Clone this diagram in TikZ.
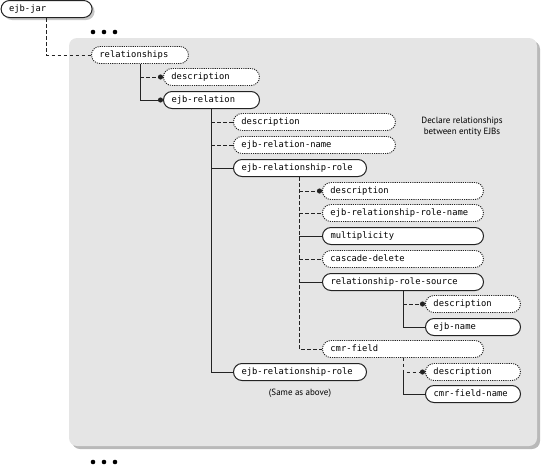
\documentclass[tikz,border=0pt]{standalone}
\usepackage{fontspec}
\newfontfamily\boxfont{DejaVu Sans Mono}
\newfontfamily\notefont{PT Sans}
\usetikzlibrary{positioning,arrows.meta,shadows}
\definecolor{PanelGray}{RGB}{229,229,229}
\definecolor{ShadeGray}{RGB}{115,115,115}
\definecolor{InkGray}{RGB}{35,35,35}
\tikzset{
  elem/.style={draw=InkGray,fill=white,rounded corners=8.5pt,minimum height=17pt,
    inner xsep=8pt,inner ysep=0pt,anchor=west,align=left,text width=#1,
    text height=6.5pt,text depth=2pt,font=\boxfont\fontsize{8.8}{10}\selectfont,line width=1pt},
  opt/.style={elem=#1,dash pattern=on 1.1pt off 1.1pt,line width=0.9pt},
  must/.style={draw=InkGray,line width=1pt},
  may/.style={draw=InkGray,line width=0.8pt,dash pattern=on 3.5pt off 2.5pt},
  dot/.style={-{Circle[length=5pt]}},
  note/.style={font=\notefont\fontsize{9}{11}\selectfont,align=center},
}
\begin{document}
\begin{tikzpicture}[x=1pt,y=-1pt]
\useasboundingbox (0,0) rectangle (547,467);
% grey frame around the relationships block
\fill[PanelGray,rounded corners=8pt,drop shadow={shadow xshift=3pt,shadow yshift=-3pt,fill=ShadeGray}]
  (69,38) rectangle (537,446);
\foreach \x in {93,104,115} {\fill (\x,32) circle (2.3pt); \fill (\x,462) circle (2.3pt);}
\node[elem=75pt,drop shadow={shadow xshift=2.5pt,shadow yshift=-2.5pt,fill=ShadeGray!80}] (jar) at (0.6,9) {ejb-jar};
\node[opt=81pt] (rels) at (91,55) {relationships};
\node[opt=80pt] (desc1) at (163,77) {description};
\node[elem=80pt] (ejbrel) at (163,100) {ejb-relation};
\node[opt=146pt] (desc2) at (233,122) {description};
\node[opt=146pt] (relname) at (233,145) {ejb-relation-name};
\node[elem=117pt] (role1) at (233,168) {ejb-relationship-role};
\node[opt=145pt] (desc3) at (322,191) {description};
\node[opt=145pt] (rolename) at (322,213) {ejb-relationship-role-name};
\node[elem=145pt] (mult) at (322,236) {multiplicity};
\node[opt=145pt] (cascade) at (322,259) {cascade-delete};
\node[elem=145pt] (rrs) at (322,282) {relationship-role-source};
\node[opt=79pt] (desc4) at (425,304) {description};
\node[elem=79pt] (ejbname) at (425,327) {ejb-name};
\node[opt=145pt] (cmr) at (322,349) {cmr-field};
\node[opt=79pt] (desc5) at (425,372) {description};
\node[elem=79pt] (cmrname) at (425,394) {cmr-field-name};
\node[elem=117pt] (role2) at (233,372) {ejb-relationship-role};
\node[note] (same) at (300,393) {(Same as above)};
\node[note] (remark) at (462,127) {Declare relationships\\between entity EJBs};
% connectors
\coordinate (t0) at ([xshift=46pt]jar.south west);
\draw[may] (t0) |- (rels.west);
\coordinate (ta) at ([xshift=49pt]rels.south west);
\draw[must,dot] (ta) |- (ejbrel.west);
\draw[may,dot] (ta |- desc1.west) -- (desc1.west);
\coordinate (tb) at ([xshift=48pt]ejbrel.south west);
\draw[must] (tb) |- (role2.west);
\draw[must] (tb |- role1.west) -- (role1.west);
\foreach \n in {desc2,relname} \draw[may] (tb |- \n.west) -- (\n.west);
\coordinate (tc) at ([xshift=66pt]role1.south west);
\draw[may] (tc) |- (cmr.west);
\draw[may,dot] (tc |- desc3.west) -- (desc3.west);
\foreach \n in {rolename,cascade} \draw[may] (tc |- \n.west) -- (\n.west);
\foreach \n in {mult,rrs} \draw[must] (tc |- \n.west) -- (\n.west);
\coordinate (td) at ([xshift=81pt]rrs.south west);
\draw[must] (td) |- (ejbname.west);
\draw[may,dot] (td |- desc4.west) -- (desc4.west);
\coordinate (te) at ([xshift=81pt]cmr.south west);
\draw[may,dot] (te) |- (desc5.west);
\draw[must] (te |- desc5.west) |- (cmrname.west);
\end{tikzpicture}
\end{document}
